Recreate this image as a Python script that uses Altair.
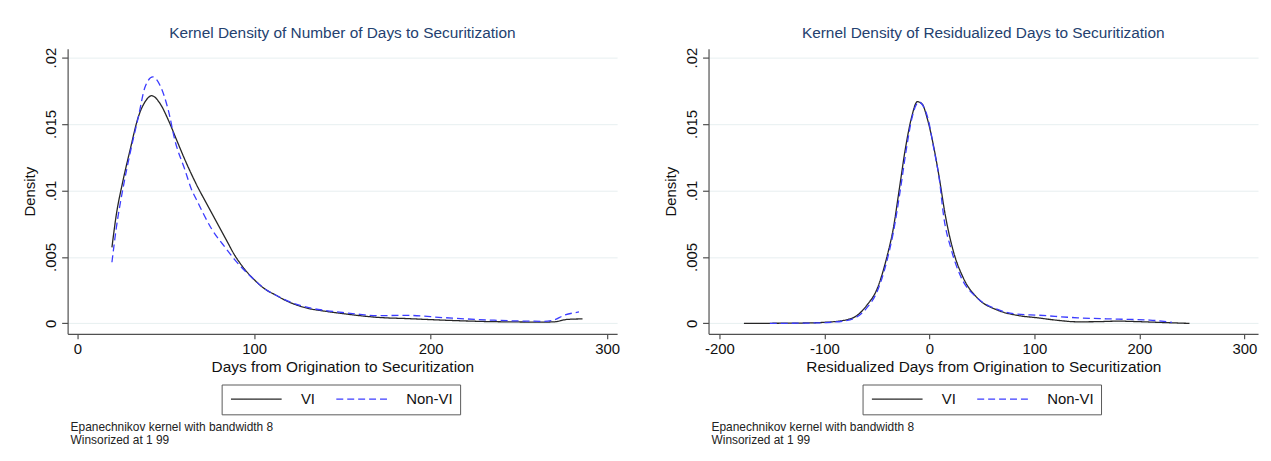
import altair as alt
import pandas as pd

FONT = "Liberation Sans"

# ---------------- data ----------------
series_names = ["VI", "Non-VI"]
notes_lines = ["Epanechnikov kernel with bandwidth 8", "Winsorized at 1 99"]

y_ticks = [0, 0.005, 0.01, 0.015, 0.02]

# Left panel: days from origination to securitization
left_title = "Kernel Density of Number of Days to Securitization"
left_xtitle = "Days from Origination to Securitization"
left_xticks = [0, 100, 200, 300]

left_vi_x = [19.5, 22, 25.5, 29.8, 34.5, 38.3, 42, 46.7, 51.4, 56.1, 60.8, 66.8, 74.8,
             84.2, 88.7, 94.5, 100, 106, 112.4, 117.5, 121.7, 131, 140, 150, 160,
             170.5, 187, 208, 236, 264, 270, 277.4, 286]
left_vi_y = [0.00572, 0.0082, 0.01058, 0.01306, 0.01556, 0.01668, 0.01713, 0.01655, 0.01531,
             0.01381, 0.01232, 0.0106, 0.0086, 0.0063, 0.0052, 0.0041, 0.0033,
             0.0026, 0.00212, 0.00175, 0.0015, 0.00112, 0.00092, 0.00074, 0.00058,
             0.00045, 0.00036, 0.00024, 0.00013, 0.0001, 0.00012, 0.0003, 0.00034]

left_nv_x = [19.5, 22, 26, 29.8, 34.5, 38.3, 42.6, 46.7, 51.4, 55.3, 60.8, 64.5, 67.4, 76,
             84.2, 89, 94.5, 100, 106, 112.4, 121.7, 131, 140, 150, 160, 170.5, 185.5, 208,
             236, 264, 269, 275.6, 284]
left_nv_y = [0.0046, 0.0072, 0.01033, 0.01282, 0.01556, 0.0178, 0.01855, 0.01792, 0.01605,
             0.0137, 0.01157, 0.0101, 0.0093, 0.0071, 0.00562, 0.0048, 0.004, 0.0033, 0.0026,
             0.00212, 0.00155, 0.00118, 0.00098, 0.00082, 0.00068, 0.00058, 0.00061, 0.00043,
             0.00024, 0.00016, 0.00022, 0.00061, 0.00086]

# Right panel: residualized days
right_title = "Kernel Density of Residualized Days to Securitization"
right_xtitle = "Residualized Days from Origination to Securitization"
right_xticks = [-200, -100, 0, 100, 200, 300]

right_vi_x = [-176.7, -150, -120, -100.2, -80.3, -68.9, -59.3, -49.8, -40.2, -34.5, -28.7,
              -23, -17.3, -11.5, -6.9, -2, 3.8, 9.5, 15.2, 22.9, 32.4, 45.8, 64.9, 84, 103,
              120, 141.4, 160, 179.6, 200, 217.9, 247.7]
right_vi_y = [0, 0.00001, 0.00003, 0.00008, 0.00025, 0.0006, 0.0014, 0.0026, 0.0051, 0.0071,
              0.0101, 0.0131, 0.0154, 0.01668, 0.0165, 0.0154, 0.0134, 0.0109, 0.0081, 0.0054,
              0.0034, 0.0019, 0.001, 0.0006, 0.00042, 0.00025, 0.00012, 0.00013, 0.00017,
              0.00013, 0.00008, 0]

right_nv_x = [-152, -120, -100, -80, -68.9, -59.3, -49.8, -40.2, -34.5, -27.6, -22, -16.5,
              -10, -5.5, -1, 3.8, 9.5, 13.5, 21, 30, 45.8, 64.9, 84, 103, 141.4, 180, 210, 231]
right_nv_y = [0, 0.00002, 0.00006, 0.0002, 0.0005, 0.0012, 0.0024, 0.0048, 0.0068, 0.0101,
              0.0131, 0.0155, 0.01665, 0.0163, 0.0153, 0.0133, 0.0108, 0.0081, 0.0055, 0.0035,
              0.0019, 0.00105, 0.0007, 0.00062, 0.00042, 0.00032, 0.00025, 0.00008]

# ---------------- styling ----------------
line_colors = ["#262626", "#3c3cff"]
line_dashes = [[1, 0], [7, 4]]
title_color = "#24416f"
y_domain = [-0.000785, 0.02067]
PLOT_W = 553
PLOT_H = 287

# legend sample: path "M-5,0H5" is drawn scaled by sqrt(size)/2 -> length 5*sqrt(size)
SYM_SIZE = 104.0
SYM_ROOT = SYM_SIZE ** 0.5           # ~10.2 px reserved by the legend layout
SYM_LEN = 5 * SYM_ROOT               # ~51 px drawn
SYM_SHIFT = (SYM_LEN - SYM_ROOT) / 2


def make_panel(vx, vy, nx, ny, title, xtitle, xticks, xdomain):
    df = pd.concat([
        pd.DataFrame({"x": vx, "y": vy, "series": series_names[0]}),
        pd.DataFrame({"x": nx, "y": ny, "series": series_names[1]}),
    ])
    legend = alt.Legend(
        title=None, orient="none", legendX=155, legendY=338, direction="horizontal",
        symbolType="M-5,0H5", symbolSize=SYM_SIZE, symbolStrokeWidth=1.3,
        symbolOffset=SYM_SHIFT,
        labelFontSize=15, labelFont=FONT, labelColor="#111111",
        labelOffset=37.4, columnPadding=18, padding=7,
        strokeColor="#5a5a5a",
    )
    lines = alt.Chart(df).mark_line(strokeWidth=1.3, interpolate="monotone").encode(
        x=alt.X("x:Q", scale=alt.Scale(domain=xdomain, nice=False, zero=False),
                axis=alt.Axis(values=xticks, title=xtitle, grid=False,
                              labelExpr="datum.value + ''")),
        y=alt.Y("y:Q", scale=alt.Scale(domain=y_domain, nice=False, zero=False),
                axis=alt.Axis(values=y_ticks, title="Density", grid=True,
                              labelAngle=270, labelAlign="center", labelBaseline="bottom",
                              labelExpr="datum.value == 0 ? '0' : replace(format(datum.value, '~g'), '0.', '.')")),
        color=alt.Color("series:N", sort=series_names,
                        scale=alt.Scale(domain=series_names, range=line_colors), legend=legend),
        strokeDash=alt.StrokeDash("series:N", sort=series_names,
                                  scale=alt.Scale(domain=series_names, range=line_dashes),
                                  legend=legend),
    )
    notes = alt.Chart(pd.DataFrame({"note": ["\n".join(notes_lines)]})).mark_text(
        align="left", baseline="top", font=FONT, fontSize=12, lineHeight=13,
        lineBreak="\n", color="#222222",
    ).encode(text="note:N", x=alt.value(3), y=alt.value(375.5))
    return alt.layer(lines, notes).properties(
        width=PLOT_W, height=PLOT_H,
        title=alt.TitleParams(title, anchor="middle", frame="group", fontSize=15.5,
                              font=FONT, fontWeight="normal", color=title_color, offset=6),
    )


left = make_panel(left_vi_x, left_vi_y, left_nv_x, left_nv_y, left_title, left_xtitle,
                  left_xticks, [-5.6, 305.6])
right = make_panel(right_vi_x, right_vi_y, right_nv_x, right_nv_y, right_title, right_xtitle,
                   right_xticks, [-210.4, 313])

chart = alt.hconcat(left, right, spacing=44).resolve_scale(
    color="independent", strokeDash="independent", x="independent", y="independent"
).resolve_legend(color="independent", strokeDash="independent").properties(
    padding={"left": 15, "top": 16.5, "right": 5, "bottom": 5}
).configure_view(strokeWidth=0).configure_axis(
    labelFont=FONT, titleFont=FONT, labelFontSize=15, titleFontSize=15.5,
    titleFontWeight="normal", labelColor="#111111", titleColor="#111111",
    domainColor="#505050", domainWidth=1.2, tickColor="#505050", tickWidth=1.2,
    gridColor="#e7eff0", gridWidth=1,
).configure_axisX(
    tickSize=5, labelPadding=3, titlePadding=3,
).configure_axisY(
    tickSize=6, labelPadding=3, titlePadding=6, titleFontSize=15,
)

chart.save("out.html", embed_options={"renderer": "svg", "actions": False})
